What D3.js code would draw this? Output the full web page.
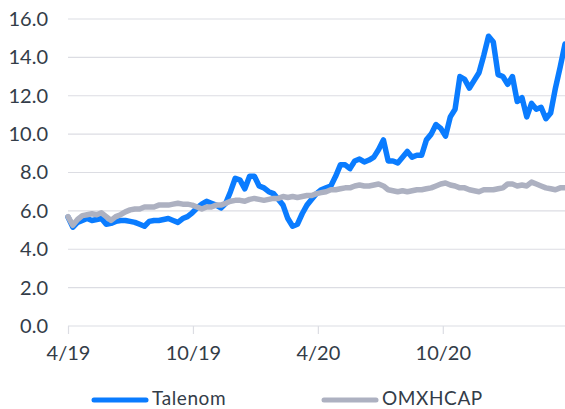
<!DOCTYPE html>
<html><head><meta charset="utf-8">
<script src="https://cdn.jsdelivr.net/npm/d3@7/dist/d3.min.js"></script>
<style>
html,body{margin:0;padding:0;background:#fff;}
svg{display:block;font-family:Lato,"Open Sans",sans-serif;}
</style></head>
<body>
<svg id="chart" width="565" height="409"></svg>
<script>
const startDate = "2019-04-01";
const seriesNames = ["Talenom", "OMXHCAP"];
const talenom = [5.68,5.15,5.4,5.5,5.6,5.5,5.55,5.6,5.3,5.35,5.45,5.5,5.5,5.45,5.4,5.3,5.2,5.45,5.5,5.5,
5.55,5.6,5.5,5.4,5.6,5.7,5.9,6.15,6.35,6.5,6.4,6.3,6.15,6.4,7.0,7.7,7.6,7.15,7.8,7.8,
7.3,7.2,7.0,6.9,6.6,6.3,5.6,5.2,5.3,5.85,6.3,6.6,6.9,7.1,7.2,7.3,7.8,8.4,8.4,8.2,
8.6,8.7,8.55,8.65,8.8,9.2,9.7,8.6,8.6,8.5,8.8,9.1,8.8,8.9,8.9,9.7,10.0,10.5,10.3,9.9,
10.9,11.3,13.0,12.85,12.4,12.8,13.2,14.1,15.1,14.8,13.1,13.0,12.6,13.0,11.7,11.9,10.9,11.6,11.3,11.4,
10.8,11.1,12.4,13.5,14.7];
const omxhcap = [5.7,5.25,5.55,5.75,5.8,5.85,5.8,5.9,5.7,5.5,5.7,5.8,5.95,6.05,6.1,6.1,6.2,6.2,6.2,6.3,
6.3,6.3,6.35,6.4,6.35,6.35,6.3,6.2,6.1,6.2,6.2,6.3,6.3,6.4,6.5,6.55,6.55,6.5,6.6,6.65,
6.6,6.55,6.6,6.65,6.65,6.75,6.7,6.75,6.7,6.75,6.8,6.8,6.9,6.95,7.0,7.1,7.1,7.15,7.2,7.2,
7.3,7.35,7.3,7.3,7.35,7.4,7.3,7.1,7.05,7.0,7.05,7.0,7.05,7.1,7.1,7.15,7.2,7.3,7.4,7.45,
7.35,7.3,7.2,7.2,7.1,7.05,7.0,7.1,7.1,7.1,7.15,7.2,7.4,7.4,7.3,7.35,7.3,7.5,7.4,7.3,
7.2,7.15,7.1,7.2,7.2];
const yTicks = [0,2,4,6,8,10,12,14,16];
const xTickDates = ["2019-04-01","2019-10-01","2020-04-01","2020-10-01"];
const xTickLabels = ["4/19","10/19","4/20","10/20"];

(function(){
const parse = d3.timeParse("%Y-%m-%d");
const t0 = parse(startDate);
const dates = talenom.map((_, i) => d3.timeDay.offset(t0, i * 7));

const colors = {Talenom: "#0a7cff", OMXHCAP: "#adb1c1"};
const textColor = "#333c48";
const fontSize = 20;
const svg = d3.select("#chart");
const mL = 68, mR = 565, mT = 19, mB = 326;

const x = d3.scaleTime().domain([dates[0], dates[dates.length - 1]]).range([mL, mR]);
const y = d3.scaleLinear().domain([0, 16]).range([mB, mT]);

// grid
svg.append("g").selectAll("line").data(yTicks).join("line")
  .attr("x1", mL).attr("x2", mR)
  .attr("y1", d => y(d)).attr("y2", d => y(d))
  .attr("stroke", "#dcdde3").attr("stroke-width", 1.2);

// y labels
const yAxis = d3.axisLeft(y).tickValues(yTicks).tickFormat(d3.format(".1f")).tickSize(0).tickPadding(20);
const gy = svg.append("g").attr("transform", `translate(${mL},0)`).call(yAxis);
gy.select(".domain").remove();
gy.selectAll("text").attr("fill", textColor).attr("font-size", fontSize).attr("font-family", "Lato, sans-serif");

// x axis
const xAxis = d3.axisBottom(x).tickValues(xTickDates.map(parse))
  .tickFormat((d, i) => xTickLabels[i]).tickSize(8).tickPadding(12);
const gx = svg.append("g").attr("transform", `translate(0,${mB})`).call(xAxis);
gx.select(".domain").remove();
gx.selectAll("line").attr("stroke", "#dcdde3").attr("stroke-width", 1.2);
gx.selectAll("text").attr("fill", textColor).attr("font-size", fontSize).attr("font-family", "Lato, sans-serif");

// lines
const line = d3.line().x((d, i) => x(dates[i])).y(d => y(d)).curve(d3.curveLinear);
[["Talenom", talenom], ["OMXHCAP", omxhcap]].forEach(([name, vals]) => {
  svg.append("path").datum(vals).attr("d", line)
    .attr("fill", "none").attr("stroke", colors[name]).attr("stroke-width", 5.5)
    .attr("stroke-linejoin", "round").attr("stroke-linecap", "round");
});

// legend
const legend = [{name: seriesNames[0], x0: 94}, {name: seriesNames[1], x0: 324}];
const lg = svg.append("g");
legend.forEach(l => {
  lg.append("line").attr("x1", l.x0).attr("x2", l.x0 + 52).attr("y1", 400).attr("y2", 400)
    .attr("stroke", colors[l.name]).attr("stroke-width", 5).attr("stroke-linecap", "round");
  lg.append("text").attr("x", l.x0 + 58).attr("y", 405).text(l.name)
    .attr("fill", textColor).attr("font-size", 19).attr("letter-spacing", 0.6)
    .attr("font-family", "Lato, sans-serif");
});
})();
</script>
</body></html>
